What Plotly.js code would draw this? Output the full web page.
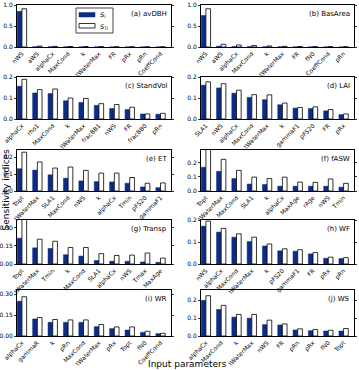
<!DOCTYPE html>
<html>
<head>
<meta charset="utf-8">
<script src="https://cdn.plot.ly/plotly-3.0.1.min.js"></script>
<style>
  html, body { margin: 0; padding: 0; background: #fff; }
  #chart { width: 359px; height: 370px; }
</style>
</head>
<body>
<div id="chart"></div>
<script>
// First-order (Si) and total-order (STi) sensitivity indices per model output

const avDBH_params = ["nWS", "aWS", "alphaCx", "MaxCond", "k", "tWaterMax", "FR", "pRx", "pRn", "CoeffCond"];
const avDBH_Si  = [0.85, 0.006, 0.005, 0.004, 0.003, 0.003, 0.002, 0.002, 0.002, 0.002];
const avDBH_STi = [0.91, 0.020, 0.015, 0.012, 0.010, 0.008, 0.006, 0.005, 0.004, 0.004];

const BasArea_params = ["nWS", "aWS", "alphaCx", "MaxCond", "k", "tWaterMax", "FR", "fN0", "CoeffCond", "pRn"];
const BasArea_Si  = [0.75, 0.020, 0.012, 0.010, 0.006, 0.005, 0.004, 0.003, 0.003, 0.002];
const BasArea_STi = [0.91, 0.065, 0.048, 0.035, 0.025, 0.015, 0.012, 0.009, 0.007, 0.006];

const StandVol_params = ["alphaCx", "rho1", "MaxCond", "k", "tWaterMax", "fracBB1", "nWS", "FR", "fracBB0", "pRn"];
const StandVol_Si  = [0.156, 0.124, 0.121, 0.087, 0.079, 0.065, 0.050, 0.045, 0.024, 0.023];
const StandVol_STi = [0.189, 0.140, 0.143, 0.100, 0.098, 0.073, 0.069, 0.056, 0.024, 0.027];

const LAI_params = ["SLA1", "nWS", "alphaCx", "MaxCond", "tWaterMax", "k", "gammaF1", "pFS20", "FR", "pRx"];
const LAI_Si  = [0.161, 0.148, 0.123, 0.103, 0.092, 0.068, 0.052, 0.050, 0.039, 0.021];
const LAI_STi = [0.177, 0.168, 0.137, 0.116, 0.115, 0.076, 0.055, 0.058, 0.045, 0.024];

const ET_params = ["Topt", "tWaterMax", "SLA1", "MaxCond", "nWS", "k", "alphaCx", "Tmin", "pFS20", "gammaF1"];
const ET_Si  = [0.132, 0.124, 0.096, 0.076, 0.060, 0.056, 0.054, 0.046, 0.024, 0.020];
const ET_STi = [0.230, 0.172, 0.136, 0.142, 0.122, 0.106, 0.106, 0.080, 0.046, 0.048];

const fASW_params = ["Topt", "tWaterMax", "MaxCond", "SLA1", "k", "alphaCx", "MaxAge", "rAge", "nWS", "Tmin"];
const fASW_Si  = [0.168, 0.139, 0.088, 0.049, 0.046, 0.034, 0.034, 0.034, 0.034, 0.027];
const fASW_STi = [0.300, 0.224, 0.146, 0.098, 0.088, 0.098, 0.063, 0.061, 0.085, 0.054];

const Transp_params = ["Topt", "tWaterMax", "Tmin", "k", "MaxCond", "SLA1", "alphaCx", "nWS", "Tmax", "MaxAge"];
const Transp_Si  = [0.214, 0.134, 0.129, 0.077, 0.066, 0.029, 0.023, 0.023, 0.017, 0.014];
const Transp_STi = [0.400, 0.206, 0.189, 0.137, 0.137, 0.086, 0.071, 0.074, 0.091, 0.049];

const WF_params = ["nWS", "alphaCx", "MaxCond", "tWaterMax", "k", "pFS20", "gammaF1", "FR", "pRx", "pRn"];
const WF_Si  = [0.172, 0.145, 0.122, 0.102, 0.082, 0.060, 0.058, 0.046, 0.026, 0.025];
const WF_STi = [0.195, 0.162, 0.137, 0.122, 0.091, 0.069, 0.065, 0.052, 0.031, 0.029];

const WR_params = ["alphaCx", "gammaR", "k", "pRn", "MaxCond", "tWaterMax", "pRx", "Topt", "fN0", "CoeffCond"];
const WR_Si  = [0.249, 0.122, 0.098, 0.098, 0.098, 0.067, 0.053, 0.043, 0.026, 0.017];
const WR_STi = [0.281, 0.132, 0.118, 0.115, 0.115, 0.082, 0.065, 0.065, 0.034, 0.019];

const WS_params = ["alphaCx", "MaxCond", "k", "tWaterMax", "nWS", "FR", "pRn", "pRx", "fN0", "Topt"];
const WS_Si  = [0.200, 0.149, 0.106, 0.100, 0.064, 0.062, 0.034, 0.030, 0.028, 0.028];
const WS_STi = [0.226, 0.172, 0.121, 0.121, 0.089, 0.068, 0.040, 0.036, 0.032, 0.042];

const panelLabels = ["(a) avDBH", "(b) BasArea", "(c) StandVol", "(d) LAI", "(e) ET",
                     "(f) fASW", "(g) Transp", "(h) WF", "(i) WR", "(j) WS"];
const legendLabels = ["<i>S</i><sub>i</sub>", "<i>S</i><sub>Ti</sub>"];
const yTicks = [[0, 0.5, 1.0], [0, 0.5, 1.0], [0, 0.1, 0.2], [0, 0.1, 0.2], [0, 0.1, 0.2],
                [0, 0.1, 0.2], [0, 0.15, 0.30], [0, 0.1, 0.2], [0, 0.15, 0.30], [0, 0.1, 0.2]];
const yTickFormat = [".1f", ".1f", ".1f", ".1f", ".1f", ".1f", ".2f", ".1f", ".2f", ".1f"];
const yMax = [1.0, 1.0, 0.2, 0.2, 0.243, 0.29, 0.365, 0.2, 0.329, 0.258];

const panels = [
  [avDBH_params, avDBH_Si, avDBH_STi],
  [BasArea_params, BasArea_Si, BasArea_STi],
  [StandVol_params, StandVol_Si, StandVol_STi],
  [LAI_params, LAI_Si, LAI_STi],
  [ET_params, ET_Si, ET_STi],
  [fASW_params, fASW_Si, fASW_STi],
  [Transp_params, Transp_Si, Transp_STi],
  [WF_params, WF_Si, WF_STi],
  [WR_params, WR_Si, WR_STi],
  [WS_params, WS_Si, WS_STi]
];

const W = 359, H = 370;
const colPx = [[17, 171], [201, 354]];
const rowPx = [[5, 47], [77, 119], [150, 191], [220, 264], [290, 336]];

const navy = "#0c2d84";
const FONT = "DejaVu Sans, sans-serif";

const px = function (v) { return v / W; };
const py = function (v) { return 1 - v / H; };

const traces = [];
const layout = {
  width: W, height: H,
  margin: {l: 0, r: 0, t: 0, b: 0},
  paper_bgcolor: "#fff", plot_bgcolor: "#fff",
  barmode: "group", bargap: 0.39, bargroupgap: 0,
  font: {family: FONT, size: 6, color: "#000"},
  showlegend: false,
  annotations: [],
  shapes: []
};

panels.forEach(function (p, i) {
  const n = i + 1;
  const xa = n === 1 ? "x" : "x" + n;
  const ya = n === 1 ? "y" : "y" + n;
  const col = i % 2, row = Math.floor(i / 2);
  const idx = p[0].map(function (_, k) { return k; });

  traces.push({
    type: "bar", x: idx, y: p[1], xaxis: xa, yaxis: ya, name: "Si",
    marker: {color: navy, line: {color: navy, width: 0.5}},
    hoverinfo: "skip"
  });
  traces.push({
    type: "bar", x: idx, y: p[2], xaxis: xa, yaxis: ya, name: "STi",
    marker: {color: "#fff", line: {color: "#000", width: 0.8}},
    hoverinfo: "skip"
  });

  const xKey = n === 1 ? "xaxis" : "xaxis" + n;
  const yKey = n === 1 ? "yaxis" : "yaxis" + n;
  layout[xKey] = {
    domain: [px(colPx[col][0]), px(colPx[col][1])],
    anchor: ya,
    range: [-0.32, 9.68],
    tickmode: "array", tickvals: idx, ticktext: p[0],
    tickangle: -45, ticks: "", tickfont: {size: 6, family: FONT},
    showline: true, linecolor: "#000", linewidth: 1, mirror: true,
    showgrid: false, zeroline: false, fixedrange: true
  };
  layout[yKey] = {
    domain: [py(rowPx[row][1]), py(rowPx[row][0])],
    anchor: xa,
    range: [0, yMax[i]],
    tickmode: "array", tickvals: yTicks[i], tickformat: yTickFormat[i],
    ticks: "outside", ticklen: 2, tickwidth: 0.8, tickcolor: "#000",
    tickfont: {size: 6, family: FONT},
    showline: true, linecolor: "#000", linewidth: 1, mirror: "ticks",
    showgrid: false, zeroline: false, fixedrange: true
  };

  layout.annotations.push({
    text: panelLabels[i], showarrow: false,
    xref: xa + " domain", yref: ya + " domain",
    x: 0.985, y: 1 - 9 / (rowPx[row][1] - rowPx[row][0]),
    xanchor: "right", yanchor: "middle",
    font: {family: FONT, size: 7, color: "#000"}
  });
});

// Legend box inside panel (a)
layout.shapes.push({
  type: "rect", xref: "paper", yref: "paper",
  x0: px(76), x1: px(113), y0: py(33), y1: py(8),
  line: {color: "#444", width: 1}, fillcolor: "#fff", layer: "above"
});
layout.shapes.push({
  type: "rect", xref: "paper", yref: "paper",
  x0: px(79), x1: px(95), y0: py(17), y1: py(12.5),
  line: {color: navy, width: 0.5}, fillcolor: navy, layer: "above"
});
layout.shapes.push({
  type: "rect", xref: "paper", yref: "paper",
  x0: px(79), x1: px(95), y0: py(28), y1: py(23.5),
  line: {color: "#000", width: 0.8}, fillcolor: "#fff", layer: "above"
});
[14.8, 26.5].forEach(function (yy, k) {
  layout.annotations.push({
    text: legendLabels[k], showarrow: false,
    xref: "paper", yref: "paper", x: px(98), y: py(yy),
    xanchor: "left", yanchor: "middle",
    font: {family: FONT, size: 6.5, color: "#000"}
  });
});

// Shared axis titles
layout.annotations.push({
  text: "Sensitivity indices", showarrow: false, textangle: -90,
  xref: "paper", yref: "paper", x: px(5.5), y: py(190),
  xanchor: "center", yanchor: "middle",
  font: {family: FONT, size: 9, color: "#000"}
});
layout.annotations.push({
  text: "Input parameters", showarrow: false,
  xref: "paper", yref: "paper", x: px(187), y: py(364),
  xanchor: "center", yanchor: "middle",
  font: {family: FONT, size: 9, color: "#000"}
});

Plotly.newPlot("chart", traces, layout, {displayModeBar: false, staticPlot: true});
</script>
</body>
</html>
